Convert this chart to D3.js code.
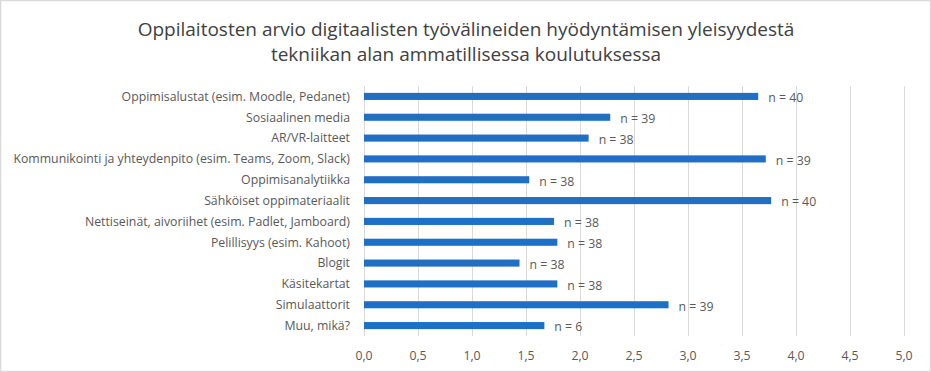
<!DOCTYPE html>
<html lang="fi">
	<head>
		<meta charset="utf-8">
		<title>Digitaaliset työvälineet</title>
		<script type="text/javascript" src="https://cdn.jsdelivr.net/npm/d3@7"></script>
		<style type="text/css">
			body { margin: 0; background: #fff; }
			text { font-family: "Open Sans", "Noto Sans", sans-serif; fill: #595959; }
		</style>
	</head>
	<body>
		<script type="text/javascript">

			var categories = [
				"Oppimisalustat (esim. Moodle, Pedanet)",
				"Sosiaalinen media",
				"AR/VR-laitteet",
				"Kommunikointi ja yhteydenpito (esim. Teams, Zoom, Slack)",
				"Oppimisanalytiikka",
				"Sähköiset oppimateriaalit",
				"Nettiseinät, aivoriihet (esim. Padlet, Jamboard)",
				"Pelillisyys (esim. Kahoot)",
				"Blogit",
				"Käsitekartat",
				"Simulaattorit",
				"Muu, mikä?"
			]
			var values = [3.65, 2.28, 2.08, 3.72, 1.53, 3.77, 1.76, 1.79, 1.44, 1.79, 2.82, 1.67]
			var counts = [40, 39, 38, 39, 38, 40, 38, 38, 38, 38, 39, 6]
			var ticks = [0, 0.5, 1, 1.5, 2, 2.5, 3, 3.5, 4, 4.5, 5]
			var titleLines = [
				"Oppilaitosten arvio digitaalisten työvälineiden hyödyntämisen yleisyydestä",
				"tekniikan alan ammatillisessa koulutuksessa"
			]

			var w = 931, h = 372
			var plotLeft = 364, plotRight = 904, plotTop = 86, plotBottom = 336

			var svg = d3.select("body").append("svg").attr("width", w).attr("height", h)

			svg.append("rect")
				.attr("x", 0.5).attr("y", 0.5)
				.attr("width", w - 1).attr("height", h - 1)
				.attr("fill", "#fff")
				.attr("stroke", "#d9d9d9")
				.attr("stroke-width", 1.5)

			var x = d3.scaleLinear().domain([0, 5]).range([plotLeft, plotRight])
			var y = d3.scaleBand()
				.domain(d3.range(categories.length))
				.range([plotTop, plotBottom])
				.paddingInner(0.66)
				.paddingOuter(0.33)

			// gridlines
			svg.selectAll(".grid")
				.data(ticks)
				.enter()
				.append("line")
				.attr("class", "grid")
				.attr("x1", function(d) { return Math.round(x(d)) + 0.5 })
				.attr("x2", function(d) { return Math.round(x(d)) + 0.5 })
				.attr("y1", plotTop)
				.attr("y2", plotBottom)
				.attr("stroke", "#d9d9d9")

			// tick labels
			svg.selectAll(".tick-label")
				.data(ticks)
				.enter()
				.append("text")
				.attr("class", "tick-label")
				.attr("x", function(d) { return x(d) })
				.attr("y", 360)
				.attr("text-anchor", "middle")
				.attr("font-size", "12.3px")
				.text(function(d) { return d3.format(".1f")(d).replace(".", ",") })

			// bars
			svg.selectAll(".bar")
				.data(values)
				.enter()
				.append("rect")
				.attr("class", "bar")
				.attr("x", x(0))
				.attr("y", function(d, i) { return y(i) })
				.attr("width", function(d) { return x(d) - x(0) })
				.attr("height", y.bandwidth())
				.attr("fill", "#1f6fc5")

			// category labels
			svg.selectAll(".cat")
				.data(categories)
				.enter()
				.append("text")
				.attr("class", "cat")
				.attr("x", plotLeft - 14)
				.attr("y", function(d, i) { return y(i) + y.bandwidth() / 2 })
				.attr("dy", "0.35em")
				.attr("text-anchor", "end")
				.attr("font-size", "12.3px")
				.text(function(d) { return d })

			// n labels
			svg.selectAll(".nlab")
				.data(values)
				.enter()
				.append("text")
				.attr("class", "nlab")
				.attr("x", function(d) { return x(d) + 10 })
				.attr("y", function(d, i) { return y(i) + y.bandwidth() / 2 + 1.5 })
				.attr("dy", "0.35em")
				.attr("font-size", "12.3px")
				.text(function(d, i) { return "n = " + counts[i] })

			// title
			svg.selectAll(".title")
				.data(titleLines)
				.enter()
				.append("text")
				.attr("class", "title")
				.attr("x", 466)
				.attr("y", function(d, i) { return 36 + i * 25 })
				.attr("text-anchor", "middle")
				.attr("font-size", "19px")
				.style("fill", "#404040")
				.text(function(d) { return d })

		</script>
	</body>
</html>
